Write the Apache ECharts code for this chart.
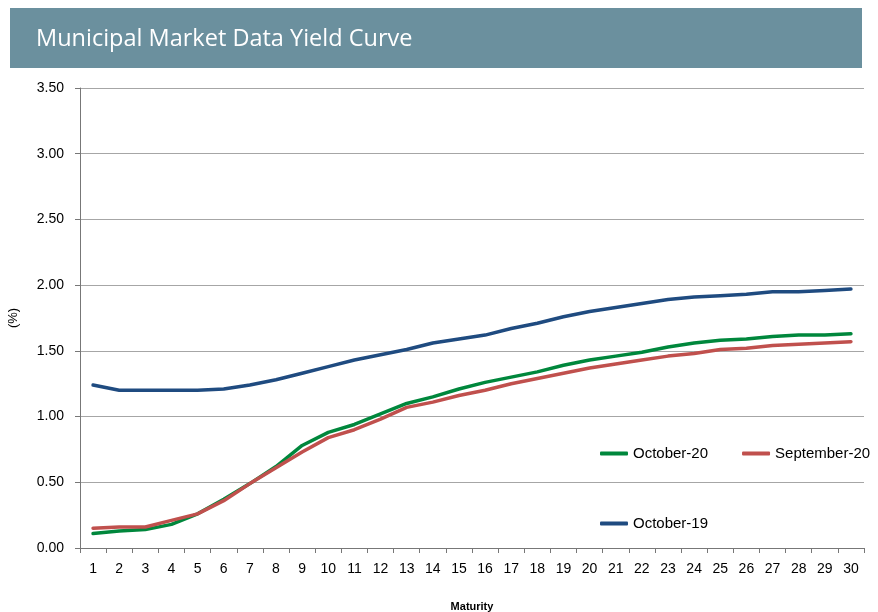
<!DOCTYPE html>
<html>
<head>
<meta charset="utf-8">
<script src="https://cdn.jsdelivr.net/npm/echarts@6/dist/echarts.min.js"></script>
<style>
  html, body { margin: 0; padding: 0; background: #fff; }
  #chart { width: 878px; height: 612px; }
</style>
</head>
<body>
<div id="chart"></div>
<script>
// maturities in years
const maturities = ['1','2','3','4','5','6','7','8','9','10','11','12','13','14','15',
  '16','17','18','19','20','21','22','23','24','25','26','27','28','29','30']

// yields (%)
const october20 = [0.11, 0.13, 0.14, 0.18, 0.26, 0.37, 0.49, 0.62, 0.78, 0.88,
  0.94, 1.02, 1.10, 1.15, 1.21, 1.26, 1.30, 1.34, 1.39, 1.43,
  1.46, 1.49, 1.53, 1.56, 1.58, 1.59, 1.61, 1.62, 1.62, 1.63]
const september20 = [0.15, 0.16, 0.16, 0.21, 0.26, 0.36, 0.49, 0.61, 0.73, 0.84,
  0.90, 0.98, 1.07, 1.11, 1.16, 1.20, 1.25, 1.29, 1.33, 1.37,
  1.40, 1.43, 1.46, 1.48, 1.51, 1.52, 1.54, 1.55, 1.56, 1.57]
const october19 = [1.24, 1.20, 1.20, 1.20, 1.20, 1.21, 1.24, 1.28, 1.33, 1.38,
  1.43, 1.47, 1.51, 1.56, 1.59, 1.62, 1.67, 1.71, 1.76, 1.80,
  1.83, 1.86, 1.89, 1.91, 1.92, 1.93, 1.95, 1.95, 1.96, 1.97]

const chart = echarts.init(document.getElementById('chart'))

const lineSeries = (name, data, color) => ({
  name,
  type: 'line',
  data,
  symbol: 'none',
  smooth: false,
  lineStyle: { color, width: 3.5, cap: 'round', join: 'round' },
  itemStyle: { color }
})

const legendText = { color: '#000', fontSize: 15, fontFamily: 'Liberation Sans' }

chart.setOption({
  animation: false,
  graphic: [
    {
      type: 'rect',
      shape: { x: 10, y: 8, width: 852, height: 60 },
      style: { fill: '#6B909E' }
    },
    {
      type: 'text',
      left: 36,
      top: 27,
      style: {
        text: 'Municipal Market Data Yield Curve',
        fill: '#fff',
        fontSize: 23.5,
        fontFamily: 'Open Sans'
      }
    }
  ],
  legend: [
    {
      data: ['October-20', 'September-20'],
      left: 600,
      top: 446,
      padding: 0,
      itemWidth: 28,
      itemHeight: 4,
      itemGap: 34,
      icon: 'roundRect',
      textStyle: legendText
    },
    {
      data: ['October-19'],
      left: 600,
      top: 516,
      padding: 0,
      itemWidth: 28,
      itemHeight: 4,
      icon: 'roundRect',
      textStyle: legendText
    }
  ],
  grid: { left: 80, right: 14, top: 88, bottom: 64, outerBoundsMode: 'none' },
  xAxis: {
    type: 'category',
    data: maturities,
    boundaryGap: true,
    name: 'Maturity',
    nameLocation: 'middle',
    nameGap: 53,
    nameTextStyle: { fontSize: 11, fontWeight: 'bold', color: '#000', fontFamily: 'Liberation Sans' },
    axisLine: { lineStyle: { color: '#777', width: 1 } },
    axisTick: { show: true, inside: false, length: 5, alignWithLabel: false, lineStyle: { color: '#777' } },
    axisLabel: { color: '#000', fontSize: 14, fontFamily: 'Liberation Sans', margin: 14, interval: 0 },
    splitLine: { show: false }
  },
  yAxis: {
    type: 'value',
    min: 0,
    max: 3.5,
    interval: 0.5,
    name: '(%)',
    nameLocation: 'middle',
    nameGap: 60,
    nameRotate: 90,
    nameTextStyle: { fontSize: 13, color: '#000', fontFamily: 'Liberation Sans' },
    axisLine: { show: true, lineStyle: { color: '#777', width: 1 } },
    axisTick: { show: true, length: 5, lineStyle: { color: '#777' } },
    axisLabel: {
      color: '#000', fontSize: 14, fontFamily: 'Liberation Sans', margin: 16,
      formatter: v => v.toFixed(2)
    },
    splitLine: { lineStyle: { color: '#A6A6A6', width: 1 } }
  },
  series: [
    lineSeries('October-20', october20, '#00873C'),
    lineSeries('September-20', september20, '#C0504D'),
    lineSeries('October-19', october19, '#1F4B80')
  ]
})
</script>
</body>
</html>
